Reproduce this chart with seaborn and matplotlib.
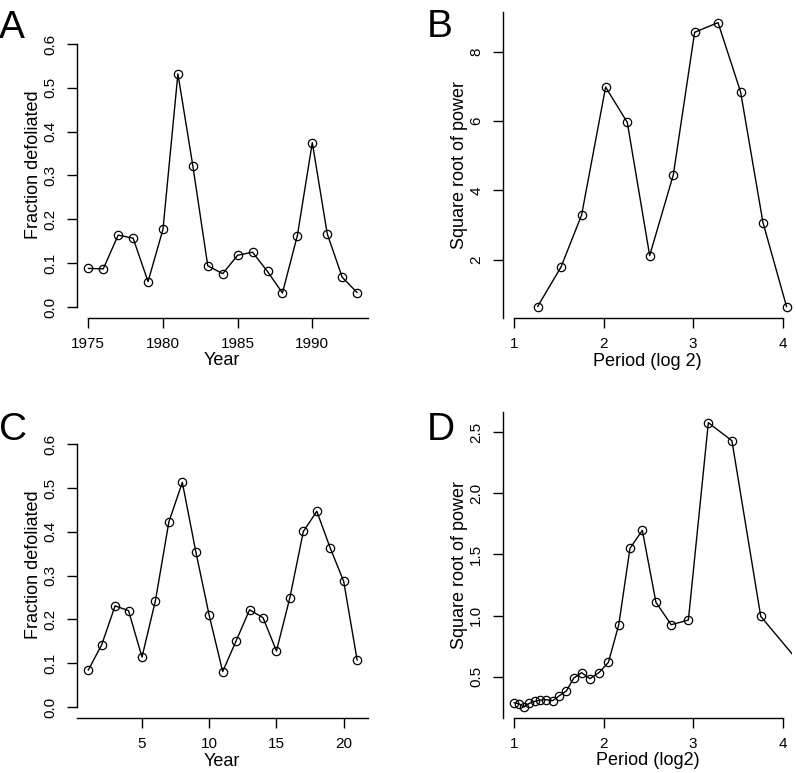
import matplotlib
matplotlib.use("Agg")
import matplotlib.pyplot as plt
import seaborn as sns

# Panel A: defoliation by year
years_a = [1975, 1976, 1977, 1978, 1979, 1980, 1981, 1982, 1983, 1984,
           1985, 1986, 1987, 1988, 1989, 1990, 1991, 1992, 1993]
frac_a = [0.088, 0.087, 0.164, 0.157, 0.058, 0.177, 0.532, 0.322, 0.094, 0.076,
          0.118, 0.125, 0.081, 0.032, 0.163, 0.375, 0.167, 0.068, 0.033]

# Panel B: spectrum of A
period_b = [1.264, 1.525, 1.755, 2.023, 2.265, 2.515, 2.779, 3.017, 3.278, 3.53, 3.78, 4.044]
power_b = [0.65, 1.79, 3.29, 6.98, 5.96, 2.12, 4.45, 8.56, 8.84, 6.84, 3.07, 0.64]

# Panel C: simulated defoliation
years_c = list(range(1, 22))
frac_c = [0.084, 0.142, 0.231, 0.220, 0.114, 0.243, 0.423, 0.513, 0.355, 0.209, 0.081,
          0.151, 0.222, 0.204, 0.128, 0.250, 0.401, 0.447, 0.363, 0.287, 0.107]

# Panel D: spectrum of C
period_d = [1.0, 1.054, 1.111, 1.17, 1.231, 1.295, 1.362, 1.433, 1.507, 1.585, 1.667, 1.755,
            1.848, 1.948, 2.054, 2.17, 2.295, 2.433, 2.585, 2.755, 2.947, 3.17, 3.433, 3.755, 4.17]
power_d = [0.287, 0.279, 0.252, 0.282, 0.298, 0.309, 0.312, 0.304, 0.345, 0.383, 0.489, 0.533,
           0.484, 0.533, 0.617, 0.925, 1.549, 1.696, 1.108, 0.925, 0.963, 2.576, 2.429, 0.993, 0.63]

sns.set_style("ticks")
plt.rcParams["font.family"] = ["Liberation Sans", "DejaVu Sans"]
plt.rcParams["text.color"] = "black"
plt.rcParams["axes.labelcolor"] = "black"
plt.rcParams["xtick.color"] = "black"
plt.rcParams["ytick.color"] = "black"

W, H = 796, 773
fig = plt.figure(figsize=(W / 100, H / 100), dpi=100)


def make_ax(left, top, right, bottom):
    return fig.add_axes([left / W, 1 - bottom / H, (right - left) / W, (bottom - top) / H])


def style(ax, xlim, ylim, xb, yb, xticks, yticks, yticklabels):
    ax.set_xlim(*xlim)
    ax.set_ylim(*ylim)
    for s in ["top", "right"]:
        ax.spines[s].set_visible(False)
    for s in ["left", "bottom"]:
        ax.spines[s].set_linewidth(1.0)
        ax.spines[s].set_color("black")
    ax.spines["bottom"].set_bounds(*xb)
    ax.spines["left"].set_bounds(*yb)
    ax.set_xticks(xticks)
    ax.set_xticklabels([str(t) for t in xticks], fontsize=11)
    ax.set_yticks(yticks)
    ax.set_yticklabels(yticklabels, fontsize=11, rotation=90, va="center")
    ax.tick_params(axis="both", direction="out", length=7, width=1.0, color="black",
                   labelcolor="black")
    ax.tick_params(axis="x", pad=6.5)
    ax.tick_params(axis="y", pad=7)


def draw(ax, x, y):
    sns.lineplot(x=x, y=y, ax=ax, color="black", lw=1.0, marker="o", ms=6,
                 markerfacecolor="none", markeredgecolor="black", markeredgewidth=0.9,
                 sort=False)


def labels(ax, xl, yl, xpos, ypos):
    ax.set_xlabel(xl, fontsize=13, va="baseline", color="black")
    ax.xaxis.set_label_coords(xpos[0] / W, 1 - xpos[1] / H, transform=fig.transFigure)
    ax.set_ylabel(yl, fontsize=13, va="center", color="black")
    ax.yaxis.set_label_coords(ypos[0] / W, 1 - ypos[1] / H, transform=fig.transFigure)


frac_ticks = [0.0, 0.1, 0.2, 0.3, 0.4, 0.5, 0.6]
frac_labels = ["0.0", "0.1", "0.2", "0.3", "0.4", "0.5", "0.6"]

# A
ax = make_ax(77.3, 44, 368.3, 318)
draw(ax, years_a, frac_a)
style(ax, (1974.263, 1993.75), (-0.0251, 0.6), (1975, 1993.75), (0, 0.6),
      [1975, 1980, 1985, 1990], frac_ticks, frac_labels)
labels(ax, "Year", "Fraction defoliated", (221.5, 365), (34, 165))

# B
ax = make_ax(502.7, 11.7, 792, 318)
draw(ax, period_b, power_b)
style(ax, (0.874, 4.104), (0.3185, 9.154), (1, 4), (0.3185, 9.154),
      [1, 2, 3, 4], [2, 4, 6, 8], ["2", "4", "6", "8"])
labels(ax, "Period (log 2)", "Square root of power", (647.8, 366), (460, 165))

# C
ax = make_ax(77.3, 444.3, 368.3, 718.3)
draw(ax, years_c, frac_c)
style(ax, (0.189, 21.83), (-0.0258, 0.6), (0.189, 21.83), (0, 0.6),
      [5, 10, 15, 20], frac_ticks, frac_labels)
labels(ax, "Year", "Fraction defoliated", (221.5, 766), (34, 565))

# D
ax = make_ax(502.7, 411.7, 792, 718.3)
draw(ax, period_d, power_d)
style(ax, (0.874, 4.104), (0.160, 2.666), (1, 4), (0.160, 2.666),
      [1, 2, 3, 4], [0.5, 1.0, 1.5, 2.0, 2.5], ["0.5", "1.0", "1.5", "2.0", "2.5"])
labels(ax, "Period (log2)", "Square root of power", (648.3, 765), (460, 565))

# panel letters
for letter, x, y in [("A", -1, 38.3), ("B", 427, 36.7), ("C", -1, 440), ("D", 426.5, 440)]:
    fig.text(x / W, 1 - y / H, letter, fontsize=28, ha="left", va="baseline", color="black")

fig.savefig("out.png", dpi=100)
